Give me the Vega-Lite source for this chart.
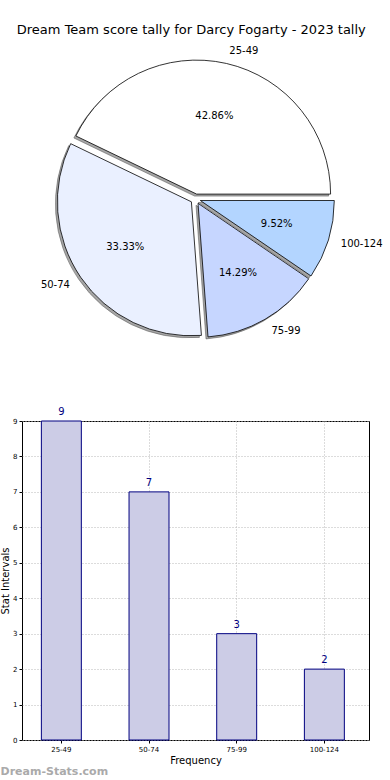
{
  "$schema": "https://vega.github.io/schema/vega-lite/v6.json",
  "padding": {"top": 23, "left": 0, "right": 0, "bottom": 0},
  "title": {"text": "Dream Team score tally for Darcy Fogarty - 2023 tally", "fontSize": 13, "font": "DejaVu Sans", "fontWeight": "normal", "anchor": "middle", "color": "#000000", "offset": 9},
  "bounds": "flush",
  "spacing": 73,
  "config": {"font": "DejaVu Sans", "view": {"stroke": null}},
  "datasets": {
    "tally": [
      {"cat": "25-49", "count": 9, "pct": 0.4286, "order": 1},
      {"cat": "50-74", "count": 7, "pct": 0.3333, "order": 2},
      {"cat": "75-99", "count": 3, "pct": 0.1429, "order": 3},
      {"cat": "100-124", "count": 2, "pct": 0.0952, "order": 4}
    ]
  },
  "vconcat": [
    {
      "width": 347,
      "height": 298,
      "data": {"name": "tally"},
      "view": {"stroke": null},
      "transform": [{"stack": "count", "groupby": [], "sort": [{"field": "order", "order": "descending"}], "as": ["s0", "s1"]}],
      "layer": [
        {"transform": [{"filter": "datum.cat === '25-49'"}], "mark": {"type": "arc", "radius": 134, "xOffset": -0.9, "yOffset": -2.9, "fill": "#4d4d4d", "fillOpacity": 0.5, "stroke": "#4d4d4d", "strokeOpacity": 0.5, "strokeWidth": 1}, "encoding": {"theta": {"field": "s0", "type": "quantitative", "stack": null, "scale": {"domain": [0, 21], "range": [1.5708, 7.854]}}, "theta2": {"field": "s1"}}},
        {"transform": [{"filter": "datum.cat === '50-74'"}], "mark": {"type": "arc", "radius": 134, "xOffset": -6.1, "yOffset": 4.8, "fill": "#4d4d4d", "fillOpacity": 0.5, "stroke": "#4d4d4d", "strokeOpacity": 0.5, "strokeWidth": 1}, "encoding": {"theta": {"field": "s0", "type": "quantitative", "stack": null}, "theta2": {"field": "s1"}}},
        {"transform": [{"filter": "datum.cat === '75-99'"}], "mark": {"type": "arc", "radius": 134, "xOffset": 0.5, "yOffset": 6.3, "fill": "#4d4d4d", "fillOpacity": 0.5, "stroke": "#4d4d4d", "strokeOpacity": 0.5, "strokeWidth": 1}, "encoding": {"theta": {"field": "s0", "type": "quantitative", "stack": null}, "theta2": {"field": "s1"}}},
        {"transform": [{"filter": "datum.cat === '100-124'"}], "mark": {"type": "arc", "radius": 134, "xOffset": 2.8, "yOffset": 3.5, "fill": "#4d4d4d", "fillOpacity": 0.5, "stroke": "#4d4d4d", "strokeOpacity": 0.5, "strokeWidth": 1}, "encoding": {"theta": {"field": "s0", "type": "quantitative", "stack": null}, "theta2": {"field": "s1"}}},
        {"transform": [{"filter": "datum.cat === '25-49'"}], "mark": {"type": "arc", "radius": 134, "xOffset": 1.1, "yOffset": -4.9, "fill": "#ffffff", "stroke": "#000000", "strokeWidth": 0.8}, "encoding": {"theta": {"field": "s0", "type": "quantitative", "stack": null}, "theta2": {"field": "s1"}}},
        {"transform": [{"filter": "datum.cat === '50-74'"}], "mark": {"type": "arc", "radius": 134, "xOffset": -4.1, "yOffset": 2.8, "fill": "#eaf0ff", "stroke": "#000000", "strokeWidth": 0.8}, "encoding": {"theta": {"field": "s0", "type": "quantitative", "stack": null}, "theta2": {"field": "s1"}}},
        {"transform": [{"filter": "datum.cat === '75-99'"}], "mark": {"type": "arc", "radius": 134, "xOffset": 2.5, "yOffset": 4.3, "fill": "#c6d6ff", "stroke": "#000000", "strokeWidth": 0.8}, "encoding": {"theta": {"field": "s0", "type": "quantitative", "stack": null}, "theta2": {"field": "s1"}}},
        {"transform": [{"filter": "datum.cat === '100-124'"}], "mark": {"type": "arc", "radius": 134, "xOffset": 4.8, "yOffset": 1.5, "fill": "#b3d5ff", "stroke": "#000000", "strokeWidth": 0.8}, "encoding": {"theta": {"field": "s0", "type": "quantitative", "stack": null}, "theta2": {"field": "s1"}}},
        {"mark": {"type": "text", "fontSize": 10, "color": "#000000", "xOffset": 1.1, "yOffset": -4.9}, "encoding": {"theta": {"field": "count", "type": "quantitative", "stack": true}, "order": {"field": "order", "sort": "descending"}, "radius": {"value": 80}, "text": {"condition": {"test": "datum.cat === '25-49'", "field": "pct", "type": "quantitative", "format": ".2%"}, "value": ""}}},
        {"mark": {"type": "text", "fontSize": 10, "color": "#000000", "xOffset": -4.1, "yOffset": 2.8}, "encoding": {"theta": {"field": "count", "type": "quantitative", "stack": true}, "order": {"field": "order", "sort": "descending"}, "radius": {"value": 80}, "text": {"condition": {"test": "datum.cat === '50-74'", "field": "pct", "type": "quantitative", "format": ".2%"}, "value": ""}}},
        {"mark": {"type": "text", "fontSize": 10, "color": "#000000", "xOffset": 2.5, "yOffset": 4.3}, "encoding": {"theta": {"field": "count", "type": "quantitative", "stack": true}, "order": {"field": "order", "sort": "descending"}, "radius": {"value": 80}, "text": {"condition": {"test": "datum.cat === '75-99'", "field": "pct", "type": "quantitative", "format": ".2%"}, "value": ""}}},
        {"mark": {"type": "text", "fontSize": 10, "color": "#000000", "xOffset": 4.8, "yOffset": 1.5}, "encoding": {"theta": {"field": "count", "type": "quantitative", "stack": true}, "order": {"field": "order", "sort": "descending"}, "radius": {"value": 80}, "text": {"condition": {"test": "datum.cat === '100-124'", "field": "pct", "type": "quantitative", "format": ".2%"}, "value": ""}}},
        {"mark": {"type": "text", "fontSize": 10, "color": "#000000", "align": "left", "baseline": "middle", "xOffset": 1.1, "yOffset": -4.9}, "encoding": {"theta": {"field": "count", "type": "quantitative", "stack": true}, "order": {"field": "order", "sort": "descending"}, "radius": {"value": 147}, "text": {"condition": {"test": "datum.cat === '25-49'", "field": "cat"}, "value": ""}}},
        {"mark": {"type": "text", "fontSize": 10, "color": "#000000", "align": "right", "baseline": "middle", "xOffset": -4.1, "yOffset": 2.8}, "encoding": {"theta": {"field": "count", "type": "quantitative", "stack": true}, "order": {"field": "order", "sort": "descending"}, "radius": {"value": 147}, "text": {"condition": {"test": "datum.cat === '50-74'", "field": "cat"}, "value": ""}}},
        {"mark": {"type": "text", "fontSize": 10, "color": "#000000", "align": "left", "baseline": "middle", "xOffset": 2.5, "yOffset": 4.3}, "encoding": {"theta": {"field": "count", "type": "quantitative", "stack": true}, "order": {"field": "order", "sort": "descending"}, "radius": {"value": 147}, "text": {"condition": {"test": "datum.cat === '75-99'", "field": "cat"}, "value": ""}}},
        {"mark": {"type": "text", "fontSize": 10, "color": "#000000", "align": "left", "baseline": "middle", "xOffset": 4.8, "yOffset": 1.5}, "encoding": {"theta": {"field": "count", "type": "quantitative", "stack": true}, "order": {"field": "order", "sort": "descending"}, "radius": {"value": 147}, "text": {"condition": {"test": "datum.cat === '100-124'", "field": "cat"}, "value": ""}}}
      ]
    },
    {
      "width": 347,
      "height": 319,
      "data": {"name": "tally"},
      "view": {"stroke": "#000000", "strokeWidth": 1},
      "title": {"text": "Dream-Stats.com", "orient": "bottom", "anchor": "start", "frame": "bounds", "fontSize": 11, "fontWeight": "bold", "color": "#aaaaaa", "offset": 1},
      "encoding": {
        "x": {"field": "cat", "type": "nominal", "sort": ["25-49", "50-74", "75-99", "100-124"],
          "scale": {"paddingInner": 0.544, "paddingOuter": 0.251, "align": 0.44},
          "axis": {"title": "Frequency", "titleFontSize": 10, "titleFontWeight": "normal", "titleColor": "#000000", "titlePadding": 3, "labelFontSize": 7, "labelColor": "#000000", "labelAngle": 0, "labelPadding": 2, "tickSize": 3, "tickColor": "#000000", "domain": false, "grid": true, "gridDash": [1, 2], "gridColor": "#b8b8b8", "bandPosition": 0.5}},
        "y": {"field": "count", "type": "quantitative", "scale": {"domain": [0, 9], "nice": false},
          "axis": {"title": "Stat Intervals", "titleFontSize": 10, "titleFontWeight": "normal", "titleColor": "#000000", "titlePadding": 2, "values": [0, 1, 2, 3, 4, 5, 6, 7, 8, 9], "labelFontSize": 7, "labelColor": "#000000", "labelPadding": 2, "tickSize": 3, "tickColor": "#000000", "domain": false, "grid": true, "gridDash": [1, 2], "gridColor": "#b8b8b8"}}
      },
      "layer": [
        {"mark": {"type": "bar", "fill": "#ccccE6", "stroke": "#000080", "strokeWidth": 1}},
        {"mark": {"type": "text", "dy": -9, "color": "#000080", "fontSize": 10, "baseline": "middle"}, "encoding": {"text": {"field": "count", "type": "quantitative"}}}
      ]
    }
  ]
}
